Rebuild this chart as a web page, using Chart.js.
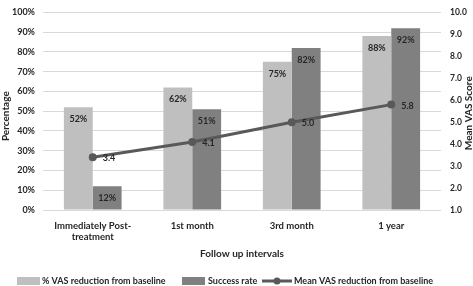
<!DOCTYPE html>
<html>
<head>
<meta charset="utf-8">
<script src="https://cdn.jsdelivr.net/npm/chart.js@4.4.1/dist/chart.umd.min.js"></script>
<style>
  html, body { margin: 0; padding: 0; background: #fff; }
  #wrap { width: 473px; height: 286px; position: relative; }
</style>
</head>
<body>
<div id="wrap"><canvas id="chart"></canvas></div>
<script>
// data
var categories = [["Immediately Post-", "treatment"], "1st month", "3rd month", "1 year"];
var vasReduction = [52, 62, 75, 88];      // % VAS reduction from baseline
var successRate = [12, 51, 82, 92];       // Success rate
var meanVas = [3.4, 4.1, 5.0, 5.8];       // Mean VAS reduction from baseline
var percentTicks = [0, 100, 10];          // min, max, step
var scoreTicks = [1, 10, 1];

var FONT = "Lato, 'Liberation Sans', sans-serif";
var TXT = "#262626";
var LIGHT = "#bfbfbf";
var DARK = "#808080";
var LINE = "#595959";

// value labels, axis titles and legend are drawn by hand
var extras = {
  id: "extras",
  afterDatasetsDraw: function(chart) {
    var ctx = chart.ctx;
    ctx.save();
    ctx.fillStyle = TXT;
    ctx.font = "bold 9px " + FONT;
    ctx.textBaseline = "middle";

    // bar labels, inside near top
    [1, 2].forEach(function(di) {
      var meta = chart.getDatasetMeta(di);
      var vals = chart.data.datasets[di].data;
      ctx.textAlign = "center";
      meta.data.forEach(function(el, i) {
        ctx.fillText(vals[i] + "%", el.x, el.y + 12);
      });
    });

    // line labels, right of point
    var lm = chart.getDatasetMeta(0);
    ctx.textAlign = "left";
    lm.data.forEach(function(el, i) {
      ctx.fillText(meanVas[i].toFixed(1), el.x + 10, el.y + 1);
    });
    ctx.restore();
  },
  afterDraw: function(chart) {
    var ctx = chart.ctx;
    var area = chart.chartArea;
    var midY = (area.top + area.bottom) / 2;
    ctx.save();
    ctx.fillStyle = TXT;
    ctx.font = "bold 10px " + FONT;
    ctx.textAlign = "center";
    ctx.textBaseline = "middle";

    ctx.save();
    ctx.translate(6, midY + 5);
    ctx.rotate(-Math.PI / 2);
    ctx.fillText("Percentage", 0, 0);
    ctx.restore();

    ctx.save();
    ctx.translate(469, midY + 2);
    ctx.rotate(-Math.PI / 2);
    ctx.fillText("Mean VAS Score", 0, 0);
    ctx.restore();

    ctx.fillText("Follow up intervals", (area.left + area.right) / 2, 254);

    // legend
    var ly = 281;
    ctx.textAlign = "left";
    ctx.font = "bold 9px " + FONT;
    ctx.fillStyle = LIGHT;
    ctx.fillRect(17, ly - 4, 23, 8);
    ctx.fillStyle = TXT;
    ctx.fillText(chart.data.datasets[1].label, 42, ly);
    ctx.fillStyle = DARK;
    ctx.fillRect(182, ly - 4, 23, 8);
    ctx.fillStyle = TXT;
    ctx.fillText(chart.data.datasets[2].label, 208, ly);
    ctx.strokeStyle = LINE;
    ctx.lineWidth = 3;
    ctx.beginPath();
    ctx.moveTo(262, ly);
    ctx.lineTo(292, ly);
    ctx.stroke();
    ctx.fillStyle = LINE;
    ctx.beginPath();
    ctx.arc(277, ly, 3.5, 0, Math.PI * 2);
    ctx.fill();
    ctx.fillStyle = TXT;
    ctx.fillText(chart.data.datasets[0].label, 294, ly);
    ctx.restore();
  }
};

new Chart(document.getElementById("chart"), {
  type: "bar",
  data: {
    labels: categories,
    datasets: [
      {
        type: "line",
        label: "Mean VAS reduction from baseline",
        data: meanVas,
        yAxisID: "y1",
        borderColor: LINE,
        backgroundColor: LINE,
        borderWidth: 3,
        pointRadius: 4,
        pointBackgroundColor: LINE,
        pointBorderWidth: 0,
        tension: 0,
        order: 0
      },
      {
        label: "% VAS reduction from baseline",
        data: vasReduction,
        yAxisID: "y",
        backgroundColor: LIGHT,
        categoryPercentage: 0.58,
        barPercentage: 1.0,
        order: 1
      },
      {
        label: "Success rate",
        data: successRate,
        yAxisID: "y",
        backgroundColor: DARK,
        categoryPercentage: 0.58,
        barPercentage: 1.0,
        order: 1
      }
    ]
  },
  options: {
    responsive: true,
    maintainAspectRatio: false,
    animation: false,
    layout: { padding: { top: 4, bottom: 0, left: 0, right: 0 } },
    plugins: {
      legend: { display: false },
      tooltip: { enabled: false }
    },
    scales: {
      x: {
        grid: { display: false, drawTicks: false },
        border: { display: false },
        ticks: { color: TXT, font: { family: FONT, size: 9.5, weight: "bold", lineHeight: 1.2 }, padding: 10, maxRotation: 0, autoSkip: false },
        afterFit: function(s) { s.height = 76; }
      },
      y: {
        position: "left",
        min: percentTicks[0],
        max: percentTicks[1],
        grid: { color: "#d9d9d9", drawTicks: false },
        border: { display: false },
        ticks: {
          stepSize: percentTicks[2],
          color: TXT,
          font: { family: FONT, size: 9, weight: "bold", lineHeight: 0.8 },
          padding: 8,
          callback: function(v) { return v + "%"; }
        },
        afterFit: function(s) { s.width = 43; }
      },
      y1: {
        position: "right",
        min: scoreTicks[0],
        max: scoreTicks[1],
        grid: { drawOnChartArea: false, drawTicks: false },
        border: { display: false },
        ticks: {
          stepSize: scoreTicks[2],
          color: TXT,
          font: { family: FONT, size: 8.5, weight: "bold", lineHeight: 0.8 },
          padding: 9,
          callback: function(v) { return v.toFixed(1); }
        },
        afterFit: function(s) { s.width = 32; }
      }
    }
  },
  plugins: [extras]
});
</script>
</body>
</html>
